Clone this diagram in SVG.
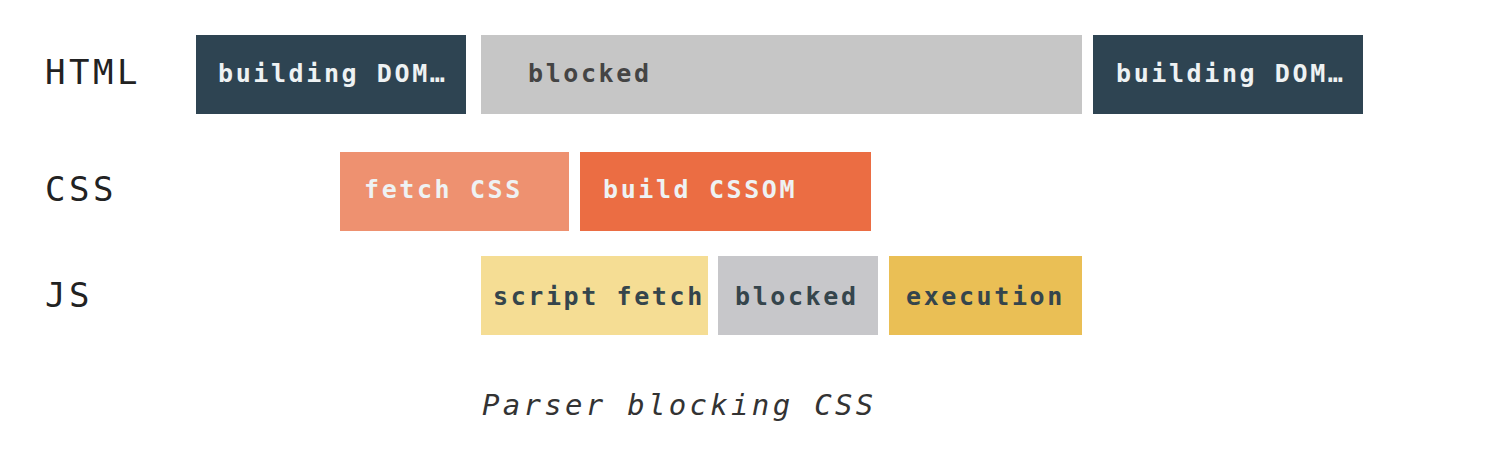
<svg xmlns="http://www.w3.org/2000/svg" width="1512" height="472" viewBox="0 0 1512 472">
<style>
.row{font-family:"DejaVu Sans Mono","Liberation Mono",monospace;font-size:34px;fill:#222;letter-spacing:3.5px}
.lbl{font-family:"DejaVu Sans Mono","Liberation Mono",monospace;font-size:25px;font-weight:bold;letter-spacing:2.6px}
.light{fill:#eef2f3}
.dark{fill:#35454c}
.cap{font-family:"DejaVu Sans Mono","Liberation Mono",monospace;font-size:29px;font-style:italic;fill:#333;letter-spacing:3.3px}
</style>
<rect width="1512" height="472" fill="#ffffff"/>
<g id="row-labels">
<text class="row" x="45" y="84">HTML</text>
<text class="row" x="45" y="201">CSS</text>
<text class="row" x="45" y="307">JS</text>
</g>
<g id="html-building1"><rect x="196" y="35" width="270" height="79" fill="#2e4452"/><text class="lbl light" x="218" y="82">building DOM…</text></g>
<g id="html-blocked"><rect x="481" y="35" width="601" height="79" fill="#c6c6c6"/><text class="lbl" x="528" y="82" fill="#444">blocked</text></g>
<g id="html-building2"><rect x="1093" y="35" width="270" height="79" fill="#2e4452"/><text class="lbl light" x="1116" y="82">building DOM…</text></g>
<g id="css-fetch"><rect x="340" y="152" width="229" height="79" fill="#ee9170"/><text class="lbl light" x="364" y="198">fetch CSS</text></g>
<g id="css-build"><rect x="580" y="152" width="291" height="79" fill="#eb6d43"/><text class="lbl light" x="603" y="198">build CSSOM</text></g>
<g id="js-fetch"><rect x="481" y="256" width="227" height="79" fill="#f5dd94"/><text class="lbl dark" x="493" y="305">script fetch</text></g>
<g id="js-blocked"><rect x="718" y="256" width="160" height="79" fill="#c7c7ca"/><text class="lbl dark" x="735" y="305">blocked</text></g>
<g id="js-exec"><rect x="889" y="256" width="193" height="79" fill="#eabf55"/><text class="lbl dark" x="906" y="305">execution</text></g>
<g id="connectors"></g>
<g id="caption"><text class="cap" x="482" y="415">Parser blocking CSS</text></g>
</svg>
